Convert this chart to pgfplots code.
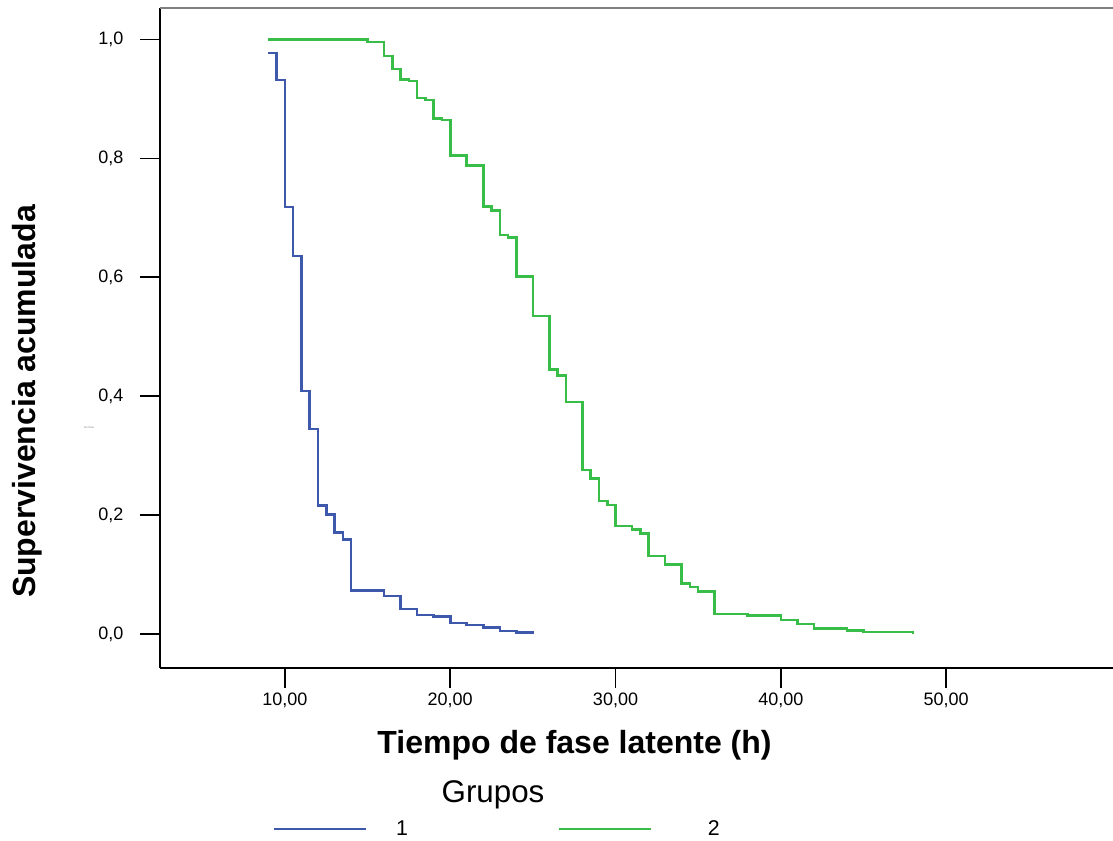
\documentclass[border=0pt]{standalone}
\usepackage{pgfplots}
\pgfplotsset{compat=1.18}
\usepackage{fontspec}
\setmainfont{Liberation Sans}
\definecolor{gblue}{RGB}{62,88,172}
\definecolor{ggreen}{RGB}{56,190,72}
\begin{document}
\begin{tikzpicture}
\useasboundingbox (-120pt,-129.75pt) rectangle (714.75pt,501pt);
\begin{axis}[
  at={(0pt,0pt)}, anchor=south west,
  scale only axis, width=714.75pt, height=495pt,
  xmin=2.44, xmax=60.1, ymin=-0.057, ymax=1.053,
  axis lines*=left,
  axis line style={line width=1.7pt, black, -},
  xtick={10,20,30,40,50},
  xticklabels={{10,00},{20,00},{30,00},{40,00},{50,00}},
  ytick={0,0.2,0.4,0.6,0.8,1.0},
  yticklabels={{0,0},{0,2},{0,4},{0,6},{0,8},{1,0}},
  tick align=outside, major tick length=15pt,
  tick style={line width=1.3pt, black},
  ticklabel style={font=\fontsize{13.5}{16}\selectfont},
  yticklabel style={xshift=-9pt},
  legend style={draw=none, fill=none, inner sep=0pt,
    at={(0.1175,-0.2439)}, anchor=west, legend columns=2,
    font=\fontsize{16}{18}\selectfont,
    /tikz/every even column/.append style={column sep=110pt}},
  legend image code/.code={\draw[#1] (0pt,0pt) -- (69pt,0pt);},
  clip=false,
]
\draw[gray, line width=1.2pt] (rel axis cs:0,1) -- (rel axis cs:1,1);
\addplot[const plot, gblue, line width=1.9pt] coordinates {
(9,0.977) (9.5,0.932) (10,0.718) (10.5,0.636) (11,0.409) (11.5,0.345)
(12,0.216) (12.5,0.201) (13,0.171) (13.5,0.159) (14,0.073) (16,0.064)
(17,0.042) (18,0.0325) (19,0.030) (20,0.0185) (21,0.015) (22,0.011)
(23,0.005) (24,0.003) (25,0.0)
};
\addlegendentry{\hspace*{20pt}1}
\addplot[const plot, ggreen, line width=1.9pt] coordinates {
(9,1.0) (15,0.996) (16,0.972) (16.5,0.950) (17,0.933) (17.5,0.930)
(18,0.902) (18.5,0.898) (19,0.867) (19.5,0.865) (20,0.805) (21,0.788)
(22,0.719) (22.5,0.712) (23,0.671) (23.5,0.667) (24,0.601) (25,0.535)
(26,0.445) (26.5,0.435) (27,0.390) (28,0.276) (28.5,0.262) (29,0.224)
(29.5,0.217) (30,0.182) (31,0.176) (31.5,0.169) (32,0.131) (33,0.117)
(34,0.085) (34.5,0.079) (35,0.072) (36,0.034) (38,0.031) (40,0.0235)
(41,0.017) (42,0.009) (44,0.006) (45,0.0034) (48,0.0)
};
\addlegendentry{\hspace*{40pt}2}
\end{axis}
\node[font=\bfseries\fontsize{24}{28}\selectfont] at (310.9pt,-57.75pt) {Tiempo de fase latente (h)};
\node[font=\bfseries\fontsize{24}{28}\selectfont, rotate=90] at (-99.75pt,199.9pt) {Supervivencia acumulada};
\node[font=\fontsize{23.5}{28}\selectfont] at (249.75pt,-95.25pt) {Grupos};
\node[font=\fontsize{2}{2}\selectfont, text=gray, inner sep=0pt] at (-53.25pt,180pt) {Sin título};
\end{tikzpicture}
\end{document}
